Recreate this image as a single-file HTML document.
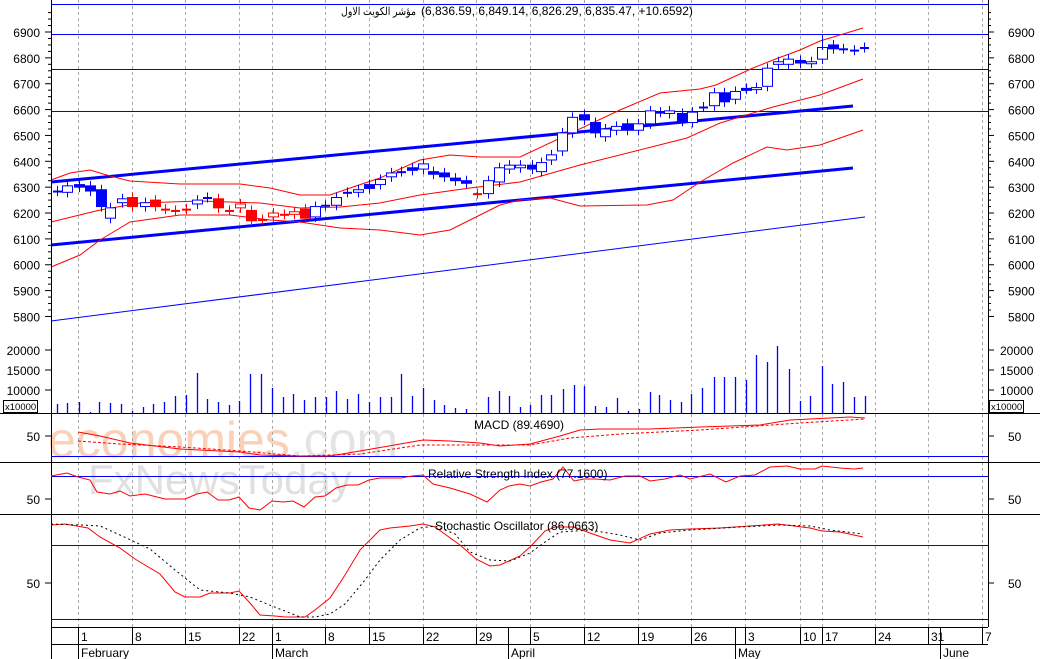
<!DOCTYPE html><html><head><meta charset="utf-8"><style>
body{margin:0;background:#fff}svg{display:block;font-family:"Liberation Sans","Noto Sans CJK SC",sans-serif}
</style></head><body>
<svg id="s" width="1040" height="659" xmlns="http://www.w3.org/2000/svg">
<rect width="1040" height="659" fill="#fff"/>
<g id="wm" font-weight="normal">
<text x="48" y="457" font-size="50" fill="#fbd0b8">economies<tspan fill="#e4e4e4">.com</tspan></text>
<text x="88" y="494" font-size="42" fill="#e0e0e0">FxNewsToday</text>
</g>
<g id="g"></g>
<text x="341" y="15" font-size="11" textLength="75" lengthAdjust="spacingAndGlyphs" fill="#000">مؤشر الكويت الاول</text>
</svg>
<script>
const g=document.getElementById('g');let h='';
const Y=p=>32+(6900-p)*0.2586;
const pl=(pts,c,w,d)=>{h+=`<polyline fill="none" stroke="${c}" stroke-width="${w}" ${d?'stroke-dasharray="'+d+'"':''} points="${pts.map(p=>p.join(',')).join(' ')}"/>`};
const ln=(x1,y1,x2,y2,c,w,d)=>{h+=`<line x1="${x1}" y1="${y1}" x2="${x2}" y2="${y2}" stroke="${c}" stroke-width="${w||1}" ${d?'stroke-dasharray="'+d+'"':''}/>`};
const tx=(x,y,t,s,a,c)=>{h+=`<text x="${x}" y="${y}" font-size="${s||12}" ${a?'text-anchor="'+a+'"':''} fill="${c||'#000'}">${t}</text>`};
[78,132,185,239,272,325,369,423,476,530,584,638,691,745,800,822,875,928,982].forEach(x=>ln(x+.5,0,x+.5,627,'#aaa',1,'3,3'));
[4,34,69,111].forEach(y=>ln(51,y+.5,988,y+.5,'#00f',1));
pl([[51,182],[853,106]],'#00f',3);pl([[51,245],[853,168]],'#00f',3);pl([[51,321],[865,217]],'#00f',1);
pl([[51,180],[70,173],[90,170],[110,176],[130,181],[180,184],[240,184],[270,188],[300,195],[330,195],[350,188],[380,178],[420,160],[450,155],[480,157],[520,157],[620,110],[660,93],[700,89],[716,85],[753,68],[773,60],[800,50],[820,41],[863,28]],'#f00',1);
pl([[51,222],[100,210],[140,203],[200,201],[260,203],[300,208],[340,207],[380,203],[420,195],[470,188],[520,182],[580,165],[687,138],[720,123],[773,107],[820,95],[863,79]],'#f00',1);
pl([[51,267],[80,255],[100,240],[130,222],[180,215],[230,215],[270,220],[300,222],[340,228],[380,230],[420,235],[450,230],[480,215],[500,205],[520,200],[550,198],[580,206],[647,205],[673,200],[700,182],[733,163],[767,147],[787,150],[820,145],[863,130]],'#f00',1);
const C=[[57,6285,6285,'c','b'],[67,6280,6305,'o','b'],[79,6300,6310,'f','b'],[90,6285,6305,'f','b'],[101,6225,6290,'f','b'],[110,6180,6220,'o','b'],[122,6240,6255,'o','b'],[132,6225,6260,'f','r'],[145,6225,6240,'o','b'],[155,6225,6250,'f','r'],[165,6215,6215,'c','r'],[175,6210,6210,'c','r'],[186,6215,6215,'c','r'],[197,6235,6250,'o','b'],[207,6260,6260,'c','b'],[218,6220,6255,'f','r'],[229,6210,6210,'c','r'],[240,6220,6235,'o','r'],[251,6170,6210,'f','r'],[262,6175,6175,'c','r'],[273,6185,6200,'o','r'],[284,6195,6195,'c','r'],[294,6195,6205,'o','r'],[305,6180,6215,'f','r'],[315,6185,6225,'o','b'],[325,6230,6230,'c','b'],[336,6230,6260,'o','b'],[347,6280,6280,'c','b'],[358,6280,6290,'o','b'],[369,6295,6310,'f','b'],[380,6310,6330,'o','b'],[391,6340,6355,'o','b'],[401,6360,6360,'c','b'],[412,6365,6375,'f','b'],[423,6370,6390,'o','b'],[433,6350,6360,'f','b'],[444,6340,6355,'f','b'],[455,6325,6335,'f','b'],[466,6315,6325,'f','b'],[477,6275,6275,'c','r'],[488,6275,6325,'o','b'],[499,6320,6375,'o','b'],[509,6370,6385,'o','b'],[520,6375,6385,'o','b'],[532,6370,6385,'f','b'],[541,6360,6395,'o','b'],[551,6405,6425,'o','b'],[562,6440,6510,'o','b'],[572,6510,6570,'o','b'],[584,6560,6580,'f','b'],[595,6510,6550,'f','b'],[605,6495,6525,'o','b'],[616,6520,6535,'o','b'],[627,6520,6545,'f','b'],[638,6520,6545,'o','b'],[650,6545,6595,'o','b'],[660,6590,6590,'c','b'],[669,6585,6595,'o','b'],[682,6555,6585,'f','b'],[692,6550,6590,'o','b'],[703,6610,6610,'c','b'],[714,6615,6665,'o','b'],[724,6630,6665,'f','b'],[735,6640,6670,'o','b'],[746,6680,6682,'f','b'],[756,6680,6685,'o','b'],[767,6690,6760,'o','b'],[778,6775,6785,'o','b'],[788,6775,6795,'o','b'],[800,6780,6790,'f','b'],[811,6780,6785,'o','b'],[822,6795,6840,'o','b'],[833,6835,6850,'f','b'],[843,6835,6835,'c','b'],[854,6830,6830,'c','b'],[864,6840,6840,'c','b']];
C.forEach(([x,a,b,t,c])=>{const col=c=='r'?'#f00':'#00f';const y1=Y(Math.max(a,b)),y2=Y(Math.min(a,b));
ln(x+.5,y1-5,x+.5,y2+5,col,1);
if(t=='c')ln(x-4,y1+.5,x+5,y1+.5,col,2);
else h+=`<rect x="${x-4.5}" y="${y1}" width="10" height="${Math.max(y2-y1,2)}" fill="${t=='f'?col:'#fff'}" stroke="${col}"/>`;});
ln(822.5,34,822.5,50,'#00f',1);
const V=[[57,404],[67,403],[79,402],[90,412],[99,402],[110,403],[121,404],[132,411],[143,407],[153,404],[164,402],[175,396],[186,395],[197,373],[207,399],[218,402],[229,405],[239,401],[250,374],[261,374],[272,388],[283,397],[293,394],[304,400],[315,397],[326,397],[336,391],[347,399],[358,394],[369,402],[380,397],[391,397],[401,374],[412,396],[423,388],[434,400],[444,405],[455,408],[466,409],[488,397],[499,391],[509,396],[520,407],[530,405],[541,395],[551,395],[563,389],[574,385],[584,386],[595,406],[606,407],[617,398],[628,411],[639,409],[650,392],[659,395],[670,400],[681,402],[691,394],[702,388],[714,377],[724,377],[735,377],[746,380],[756,355],[767,362],[777,346],[789,369],[800,401],[810,396],[822,366],[832,384],[843,382],[854,397],[865,396]];
V.forEach(([x,y])=>ln(x+.5,y,x+.5,413,'#00f',1.3));
[413,462,514].forEach(y=>ln(51,y+.5,1040,y+.5,'#000',1));
ln(0,413.5,51,413.5,'#000');ln(0,462.5,51,462.5,'#000');ln(0,514.5,51,514.5,'#000');
ln(51.5,0,51.5,659,'#000');ln(988.5,0,988.5,627,'#000');ln(51,627.5,988,627.5,'#000');ln(51,644.5,988,644.5,'#000');
ln(51,456.5,988,456.5,'#00f');
pl([[78,432],[100,436],[130,443],[180,449],[240,452],[260,455],[300,456],[330,456],[360,451],[400,444],[423,440],[450,441],[480,443],[500,446],[530,444],[560,436],[580,430],[600,429],[650,429],[700,427],[760,425],[790,420],[850,417],[865,418]],'#f00',1);
pl([[78,441],[120,444],[180,447],[240,451],[300,456],[360,454],[420,445],[480,445],[530,445],[570,438],[620,434],[700,430],[800,423],[865,419]],'#f00',1,'3,2');
tx(474,429,'MACD (89.4690)',12);
ln(51,476.5,988,476.5,'#00f');
pl([[51,476],[67,473],[78,477],[90,480],[97,492],[110,494],[120,491],[130,496],[145,494],[165,499],[185,499],[197,494],[207,492],[218,500],[229,500],[239,497],[249,508],[260,510],[272,501],[283,502],[293,501],[304,507],[315,497],[325,496],[336,488],[347,485],[358,485],[369,480],[380,478],[401,478],[412,476],[423,475],[433,484],[450,488],[470,494],[487,502],[500,490],[509,486],[520,484],[530,486],[541,482],[553,479],[563,467],[574,481],[584,479],[595,479],[610,480],[625,476],[640,476],[650,481],[665,479],[680,475],[690,479],[710,474],[726,482],[740,476],[755,475],[770,467],[787,466],[800,469],[815,469],[822,466],[840,468],[854,469],[863,468]],'#f00',1);
tx(428,478,'Relative Strength Index (77.1600)',12);
ln(51,545.5,988,545.5,'#00f');ln(51,619.5,988,619.5,'#00f');
pl([[51,525],[65,524],[88,528],[100,537],[120,548],[135,559],[160,574],[175,592],[185,597],[200,597],[210,593],[230,593],[239,591],[250,603],[260,615],[275,616],[285,617],[305,617],[315,610],[330,598],[345,575],[360,550],[370,540],[380,530],[390,528],[410,526],[423,524],[435,527],[460,545],[476,559],[490,566],[500,565],[520,556],[530,547],[545,531],[555,527],[574,527],[590,533],[610,540],[630,543],[650,534],[670,530],[690,529],[720,528],[750,526],[778,524],[810,528],[822,531],[840,532],[863,537]],'#f00',1);
pl([[51,524],[80,525],[100,526],[120,535],[150,549],[175,570],[200,590],[230,593],[250,597],[272,606],[300,617],[315,617],[330,614],[345,604],[365,580],[380,560],[400,540],[420,528],[435,526],[455,534],[470,552],[490,560],[510,561],[530,553],[545,542],[560,532],[590,530],[620,535],[640,540],[660,533],[690,530],[740,527],[780,525],[810,526],[830,530],[863,534]],'#000',1,'2,3');
tx(435,530,'Stochastic Oscillator (86.0663)',12);
for(let p=5800;p<=6900;p+=100){const y=Y(p);tx(40,y+5,p,12,'end');tx(1008,y+5,p,12);ln(45,y,51,y,'#000');ln(988,y,994,y,'#000');
 for(let k=1;k<4;k++){const yy=Y(p+k*25);if(yy>0){ln(48,yy,51,yy,'#000');ln(988,yy,991,yy,'#000');}}}
[[20000,350],[15000,370],[10000,390]].forEach(([v,y])=>{tx(40,y+5,v,12,'end');tx(1000,y+5,v,12);ln(45,y,51,y,'#000');ln(988,y,994,y,'#000');});
h+='<rect x="3.5" y="400.5" width="34" height="12" fill="#fff" stroke="#000"/><rect x="989.5" y="400.5" width="34" height="12" fill="#fff" stroke="#000"/>';
tx(5,410,'x10000',9.5);tx(991,410,'x10000',9.5);
[436,499,583].forEach(y=>{tx(40,y+5,'50',12,'end');tx(1008,y+5,'50',12);ln(45,y,51,y,'#000');ln(988,y,994,y,'#000');});
[[78,'1'],[132,'8'],[185,'15'],[239,'22'],[272,'1'],[325,'8'],[369,'15'],[423,'22'],[476,'29'],[530,'5'],[584,'12'],[638,'19'],[691,'26'],[745,'3'],[800,'10'],[822,'17'],[875,'24'],[928,'31'],[982,'7']].forEach(([x,t])=>{ln(x+.5,627,x+.5,644,'#000');tx(x+3,641,t,12);});
[[78,'February'],[272,'March'],[508,'April'],[735,'May'],[940,'June']].forEach(([x,t])=>{ln(x+.5,627,x+.5,659,'#000');tx(x+3,657,t,12);});
tx(421,15,'(6,836.59, 6,849.14, 6,826.29, 6,835.47, +10.6592)',12);
g.innerHTML=h;
</script>
</body></html>
